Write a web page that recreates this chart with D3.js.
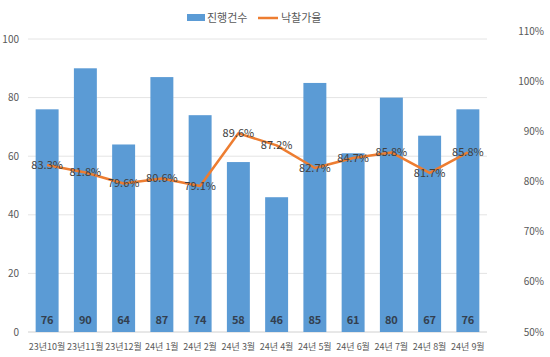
<!DOCTYPE html>
<html><head><meta charset="utf-8">
<script src="https://cdn.jsdelivr.net/npm/d3@7"></script>
<style>body{margin:0;background:#fff}svg{display:block;font-family:"Noto Sans CJK KR","Noto Sans",sans-serif}</style>
</head><body><svg id="c" width="550" height="357"></svg>
<script>
const categories = ["23년10월","23년11월","23년12월","24년 1월","24년 2월","24년 3월","24년 4월","24년 5월","24년 6월","24년 7월","24년 8월","24년 9월"];
const counts = [76,90,64,87,74,58,46,85,61,80,67,76];
const rates = [83.3,81.8,79.6,80.6,79.1,89.6,87.2,82.7,84.7,85.8,81.7,85.8];
const leftTicks = [0,20,40,60,80,100];
const rightTicks = [50,60,70,80,90,100,110];
const seriesNames = ["진행건수","낙찰가율"];

const svg = d3.select("#c");
const x = d3.scaleBand().domain(categories).range([28,487]).paddingInner(0.4).paddingOuter(0.2);
const yL = d3.scaleLinear().domain([0,100]).range([332,39]);
const yR = d3.scaleLinear().domain([50,110]).range([332,31]);

// gridlines
svg.append("g").selectAll("line").data(leftTicks).join("line")
  .attr("x1",28).attr("x2",487).attr("y1",d=>yL(d)).attr("y2",d=>yL(d))
  .attr("stroke",d=>d===0?"#d0d0d0":"#e4e4e4").attr("stroke-width",1);

// left axis labels
svg.append("g").selectAll("text").data(leftTicks).join("text")
  .attr("x",19).attr("y",d=>yL(d)).attr("dy","0.35em").attr("text-anchor","end")
  .attr("font-size",10).attr("fill","#595959").text(d=>d);

// right axis labels
svg.append("g").selectAll("text").data(rightTicks).join("text")
  .attr("x",544).attr("y",d=>yR(d)).attr("dy","0.35em").attr("text-anchor","end")
  .attr("font-size",10).attr("fill","#595959").text(d=>d+"%");

// bars
svg.append("g").selectAll("rect").data(counts).join("rect")
  .attr("x",(d,i)=>x(categories[i])).attr("width",x.bandwidth())
  .attr("y",d=>yL(d)).attr("height",d=>yL(0)-yL(d)).attr("fill","#5B9BD5");

// bar value labels
svg.append("g").selectAll("text").data(counts).join("text")
  .attr("x",(d,i)=>x(categories[i])+x.bandwidth()/2).attr("y",320).attr("dy","0.35em")
  .attr("text-anchor","middle").attr("font-size",11).attr("font-weight","bold").attr("fill","#333f4f").text(d=>d);

// category labels
svg.append("g").selectAll("text").data(categories).join("text")
  .attr("x",d=>x(d)+x.bandwidth()/2).attr("y",347).attr("dy","0.35em")
  .attr("text-anchor","middle").attr("font-size",9).attr("fill","#595959").text(d=>d);

// line
const line = d3.line().x((d,i)=>x(categories[i])+x.bandwidth()/2).y(d=>yR(d));
svg.append("path").datum(rates).attr("d",line).attr("fill","none")
  .attr("stroke","#ED7D31").attr("stroke-width",2.5).attr("stroke-linejoin","round");

// line labels
svg.append("g").selectAll("text").data(rates).join("text")
  .attr("x",(d,i)=>x(categories[i])+x.bandwidth()/2).attr("y",d=>yR(d)).attr("dy","0.35em")
  .attr("text-anchor","middle").attr("font-size",11).attr("fill","#404040").text(d=>d.toFixed(1)+"%");

// legend
const lg = svg.append("g");
lg.append("rect").attr("x",187).attr("y",14).attr("width",18).attr("height",7).attr("fill","#5B9BD5");
lg.append("text").attr("x",207).attr("y",18).attr("dy","0.35em").attr("font-size",11).attr("fill","#595959").text(seriesNames[0]);
lg.append("line").attr("x1",258).attr("x2",278).attr("y1",18).attr("y2",18).attr("stroke","#ED7D31").attr("stroke-width",2.5);
lg.append("text").attr("x",281).attr("y",18).attr("dy","0.35em").attr("font-size",11).attr("fill","#595959").text(seriesNames[1]);
</script></body></html>
